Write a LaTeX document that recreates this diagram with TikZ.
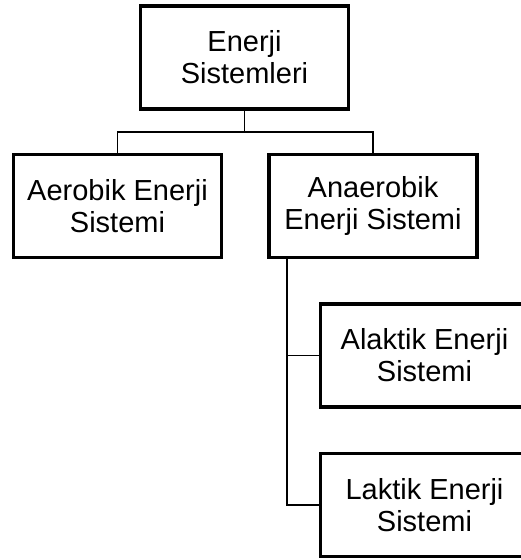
\documentclass[tikz,border=0pt]{standalone}
\usepackage{fontspec}
\setmainfont{Liberation Sans}
\usepackage{tikz}
\usetikzlibrary{positioning, calc}

\begin{document}
\begin{tikzpicture}[x=1pt, y=-1pt,
    sysbox/.style={draw, line width=3.2pt, minimum width=208pt, minimum height=103pt, align=center, inner sep=0pt, font=\fontsize{29}{32}\selectfont},
    link/.style={line width=1.6pt}]
  \useasboundingbox (0,0) rectangle (520,560);
  \node[sysbox] (energy) at (244.5,57.5) {Enerji\\Sistemleri};
  \node[sysbox] (aerobic) at (117.5,206) {Aerobik Enerji\\Sistemi};
  \node[sysbox] (anaerobic) at (373,206) {Anaerobik\\Enerji Sistemi};
  \node[sysbox] (alactic) at (424.5,355.5) {Alaktik Enerji\\Sistemi};
  \node[sysbox] (lactic) at (424.5,505) {Laktik Enerji\\Sistemi};
  \coordinate (split) at (244.5,132);
  \coordinate (trunk) at (287,259);
  \draw[link] (energy) -- (split);
  \draw[link] (aerobic.north) |- (split) -| (anaerobic.north);
  \draw[link] (trunk) |- (lactic.west);
  \draw[link] (trunk |- alactic.west) -- (alactic.west);
\end{tikzpicture}
\end{document}
